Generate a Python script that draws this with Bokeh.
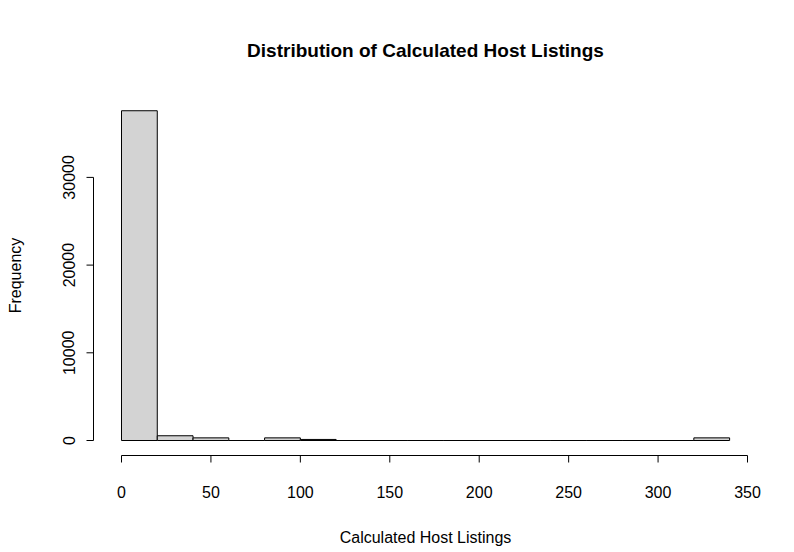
from bokeh.plotting import figure
from bokeh.models import Range1d
from bokeh.core.properties import value
from bokeh.embed import file_html
from bokeh.resources import INLINE

bin_left = [0, 20, 40, 60, 80, 100, 120, 140, 160, 180, 200, 220, 240, 260, 280, 300, 320]
counts = [37600, 540, 300, 0, 300, 120, 0, 0, 0, 0, 0, 0, 0, 0, 0, 0, 300]
bin_width = 20
x_ticks = [0, 50, 100, 150, 200, 250, 300, 350]
y_ticks = [0, 10000, 20000, 30000]

# px per data unit, used to place the detached R-style axes
sx = 626 / 350.0
sy = 87.7 / 10000.0

W, H = 786, 548
x0 = -121 / sx
x1 = x0 + W / sx
y0 = -(H - 440) / sy
y1 = y0 + H / sy

p = figure(width=W, height=H, output_backend="svg", toolbar_location=None,
           x_range=Range1d(x0, x1), y_range=Range1d(y0, y1),
           min_border=0)
p.axis.visible = False
p.grid.visible = False
p.outline_line_color = None

FONT = value("Liberation Sans")

p.quad(left=bin_left, right=[b + bin_width for b in bin_left], bottom=0, top=counts,
       fill_color="#d3d3d3", line_color="black", line_width=1)

# x axis
ax_y = -15 / sy
tk = 7 / sy
p.segment(x0=x_ticks[0], y0=ax_y, x1=x_ticks[-1], y1=ax_y, color="black")
p.segment(x0=x_ticks, y0=ax_y, x1=x_ticks, y1=ax_y - tk, color="black")
p.text(x=x_ticks, y=ax_y - 36 / sy, text=[str(t) for t in x_ticks], text_font=FONT,
       text_font_size="16px", text_align="center", text_baseline="middle")

# y axis
ax_x = -28 / sx
tkx = 7 / sx
p.segment(x0=ax_x, y0=y_ticks[0], x1=ax_x, y1=y_ticks[-1], color="black")
p.segment(x0=ax_x, y0=y_ticks, x1=ax_x - tkx, y1=y_ticks, color="black")
p.text(x=ax_x - 25 / sx, y=y_ticks, text=[str(t) for t in y_ticks], text_font=FONT,
       text_font_size="16px", text_align="center", text_baseline="middle", angle=1.5708)

# titles
p.text(x=[(425 - 121) / sx], y=[(440 - 50) / sy], text=["Distribution of Calculated Host Listings"],
       text_font=FONT, text_font_size="19px", text_font_style="bold",
       text_align="center", text_baseline="middle")
p.text(x=[(425 - 121) / sx], y=[(440 - 537) / sy], text=["Calculated Host Listings"],
       text_font=FONT, text_font_size="16px", text_align="center", text_baseline="middle")
p.text(x=[(15 - 121) / sx], y=[(440 - 275) / sy], text=["Frequency"],
       text_font=FONT, text_font_size="16px", text_align="center", text_baseline="middle",
       angle=1.5708)

open("out.html", "w").write(file_html(p, INLINE))
